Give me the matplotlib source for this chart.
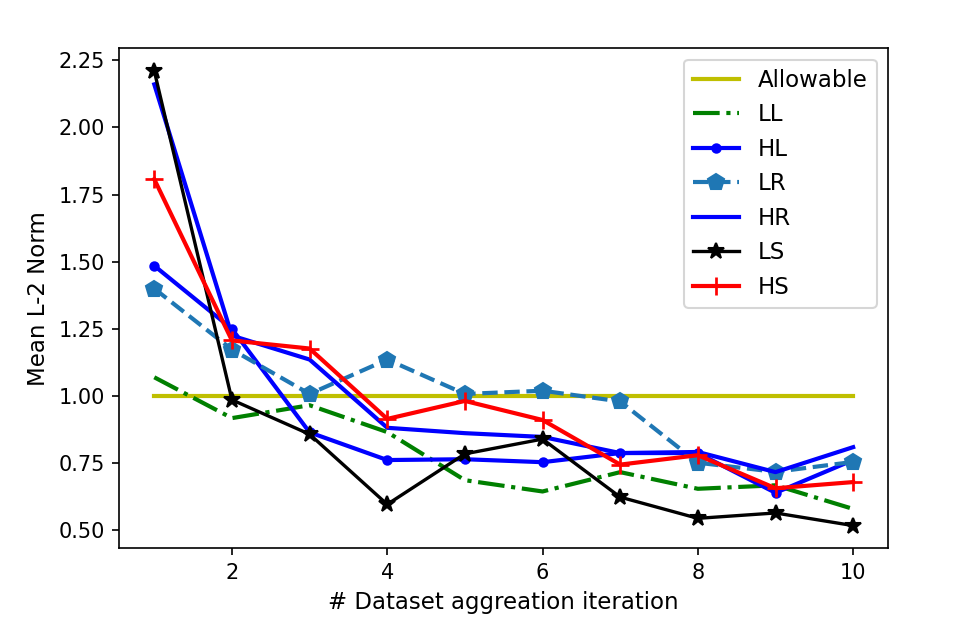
import matplotlib
matplotlib.use("Agg")
import matplotlib.pyplot as plt

# iterations of dataset aggregation
iters = [1, 2, 3, 4, 5, 6, 7, 8, 9, 10]

allowable = [1.0] * 10
ll = [1.07, 0.918, 0.966, 0.866, 0.687, 0.645, 0.717, 0.655, 0.668, 0.58]
hl = [1.485, 1.25, 0.865, 0.762, 0.765, 0.754, 0.788, 0.788, 0.64, 0.762]
lr = [1.40, 1.173, 1.008, 1.136, 1.008, 1.02, 0.98, 0.752, 0.718, 0.755]
hr = [2.16, 1.225, 1.136, 0.882, 0.862, 0.848, 0.788, 0.792, 0.717, 0.81]
ls = [2.21, 0.986, 0.858, 0.597, 0.785, 0.84, 0.624, 0.545, 0.565, 0.518]
hs = [1.807, 1.207, 1.177, 0.915, 0.982, 0.911, 0.745, 0.78, 0.657, 0.68]

fig = plt.figure(figsize=(6.38, 4.207), dpi=150)
ax = fig.add_axes([0.1247, 0.131, 0.8033, 0.7925])

ax.plot(iters, allowable, color="y", lw=2, label="Allowable")
ax.plot(iters, ll, "g-.", lw=2, label="LL")
ax.plot(iters, hl, "b-", marker="o", ms=4, lw=2, label="HL")
ax.plot(iters, lr, "--", color="tab:blue", marker="p", ms=8, lw=2, label="LR")
ax.plot(iters, hr, "b-", lw=2, label="HR")
ax.plot(iters, ls, "k-", marker="*", ms=8, lw=1.6, label="LS")
ax.plot(iters, hs, "r-", marker="+", ms=9, mew=1.3, lw=2, label="HS")

ax.set_yticks([0.5, 0.75, 1.0, 1.25, 1.5, 1.75, 2.0, 2.25])
ax.set_xticks([2, 4, 6, 8, 10])
ax.set_xlabel("# Dataset aggreation iteration", fontsize=11)
ax.set_ylabel("Mean L-2 Norm", fontsize=11)
ax.legend(loc="upper right", fontsize=11)

fig.savefig("out.png", dpi=150)
